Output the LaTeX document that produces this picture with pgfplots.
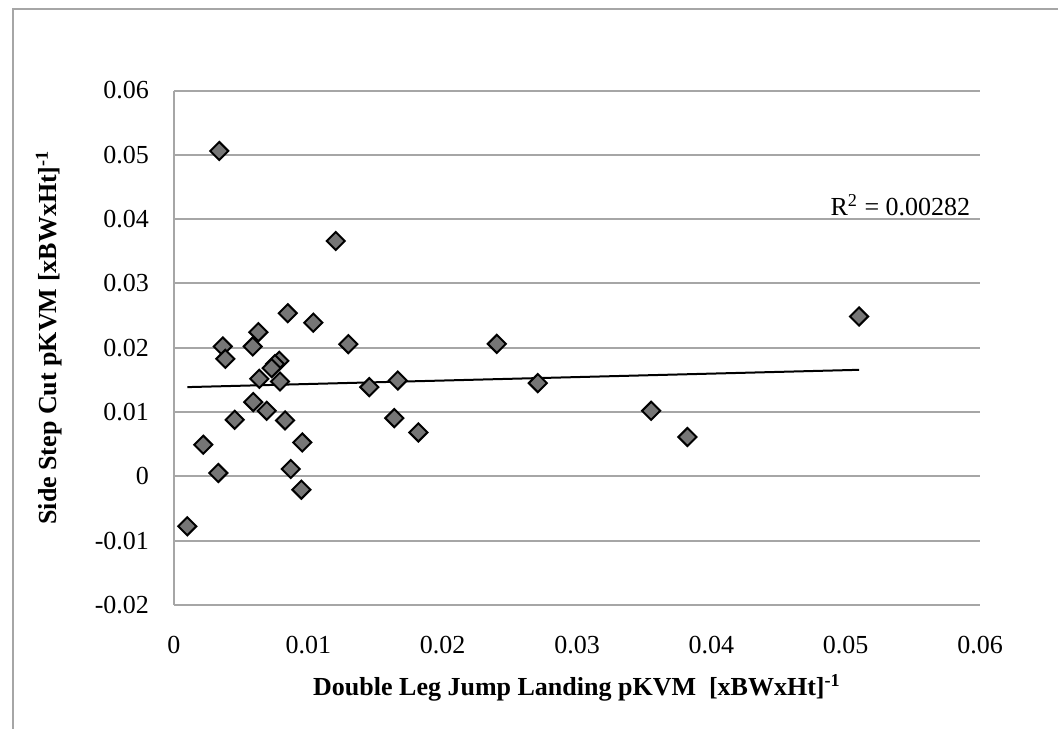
\documentclass[border=0pt]{standalone}
\usepackage{pgfplots}
\pgfplotsset{compat=1.18}
\usepackage{fontspec}
\setmainfont{Liberation Serif}
\definecolor{gridgray}{RGB}{166,166,166}
\definecolor{markfill}{RGB}{118,118,118}
\begin{document}
\begin{tikzpicture}
\begin{axis}[
  at={(0,0)}, anchor=south west,
  scale only axis,
  width=403pt, height=257.25pt,
  xmin=0, xmax=0.06, ymin=-0.02, ymax=0.06,
  axis lines=left,
  axis line style={draw=gridgray, line width=1pt, -},
  xtick={0,0.01,0.02,0.03,0.04,0.05,0.06},
  xticklabels={0,0.01,0.02,0.03,0.04,0.05,0.06},
  ytick={-0.02,-0.01,0,0.01,0.02,0.03,0.04,0.05,0.06},
  yticklabels={-0.02,-0.01,0,0.01,0.02,0.03,0.04,0.05,0.06},
  scaled ticks=false,
  major tick length=0pt,
  ymajorgrids,
  grid style={draw=gridgray, line width=1pt},
  tick label style={font=\fontsize{13}{15}\selectfont},
  yticklabel style={anchor=east, xshift=-9pt},
  xticklabel style={anchor=north, yshift=-12pt},
  xlabel={Double Leg Jump Landing pKVM\ \ [xBWxHt]\textsuperscript{-1}},
  ylabel={Side Step Cut pKVM [xBWxHt]\textsuperscript{-1}},
  label style={font=\bfseries\fontsize{13}{15}\selectfont},
  xlabel style={at={(axis description cs:0.5,0)}, anchor=center, yshift=-41.5pt},
  ylabel style={at={(axis description cs:-0.155,0.52)}, anchor=center, rotate=0},
  clip=false,
]
\addplot[only marks, mark=square*, mark size=3.2pt,
  mark options={rotate=45, fill=markfill, draw=black, line width=1pt}]
  table[row sep=\\] {
x y\\
0.00337 0.0506\\
0.01204 0.0366\\
0.00847 0.02537\\
0.01037 0.0239\\
0.00628 0.02242\\
0.00363 0.0202\\
0.00586 0.0202\\
0.00382 0.01828\\
0.01298 0.02056\\
0.00784 0.01797\\
0.00752 0.01747\\
0.00727 0.01683\\
0.00635 0.01517\\
0.00789 0.01475\\
0.01454 0.01388\\
0.01666 0.0149\\
0.0059 0.01155\\
0.0069 0.0102\\
0.00452 0.0088\\
0.00827 0.0087\\
0.0164 0.00906\\
0.01819 0.00683\\
0.00218 0.00492\\
0.00955 0.00528\\
0.0033 0.00053\\
0.00869 0.00115\\
0.00948 -0.00207\\
0.00099 -0.00776\\
0.02403 0.0206\\
0.02708 0.0145\\
0.03552 0.0102\\
0.03822 0.00612\\
0.0510 0.02486\\
};
\addplot[black, line width=1pt, no marks] coordinates {(0.00099,0.01388) (0.0510,0.01657)};
\node[anchor=base east, font=\fontsize{13}{15}\selectfont, inner sep=0pt] at (axis cs:0.0593,0.0406) {R\textsuperscript{2} = 0.00282};
\end{axis}
\pgfresetboundingbox
\path[use as bounding box] (-87pt,-61.5pt) rectangle (442pt,302.5pt);
\draw[gridgray, line width=1pt] (-80.5pt,-62pt) -- (-80.5pt,298pt) -- (443pt,298pt);
\end{tikzpicture}
\end{document}
